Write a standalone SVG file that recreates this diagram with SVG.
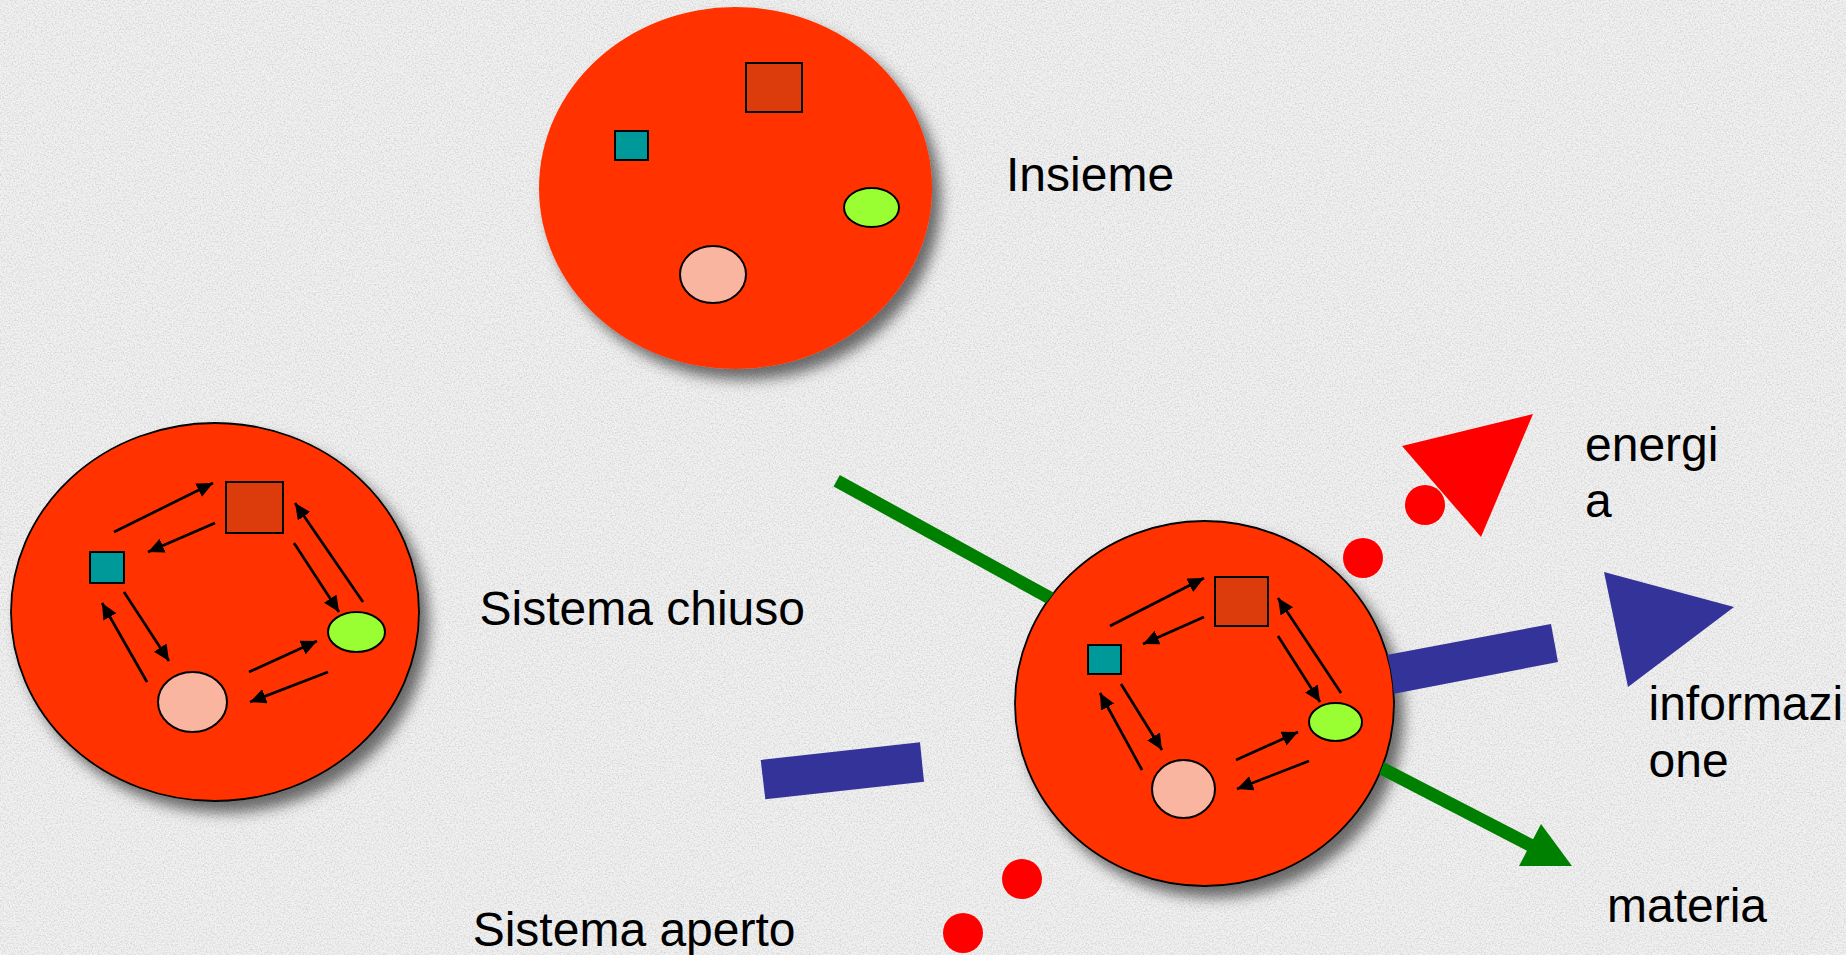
<svg xmlns="http://www.w3.org/2000/svg" width="1846" height="955" viewBox="0 0 1846 955">
  <style>
    .big{fill:#FF3300;}
    .outl{stroke:#000;stroke-width:1.8;}
    .sq{fill:#DC3B0B;stroke:#000;stroke-width:2;}
    .teal{fill:#009999;stroke:#000;stroke-width:2;}
    .lime{fill:#99FF33;stroke:#000;stroke-width:2;}
    .pink{fill:#F9B5A0;stroke:#000;stroke-width:2;}
    .arr{stroke:#000;stroke-width:2.7;fill:none;marker-end:url(#ah);}
    .red{fill:#FF0000;}
    .blue{fill:#333399;}
    .green{stroke:#008000;stroke-width:13;fill:none;}
    .lbl{font-family:"Liberation Sans",Arial,sans-serif;font-size:48px;fill:#000;}
  </style>
  <defs>
    <filter id="tex" x="0" y="0" width="100%" height="100%">
      <feTurbulence type="fractalNoise" baseFrequency="0.65" numOctaves="3" seed="7"/>
      <feColorMatrix type="matrix" values="0 0 0 0 0.68  0 0 0 0 0.68  0 0 0 0 0.68  2.6 0 0 0 -1.05"/>
    </filter>
    <filter id="sh" x="-20%" y="-20%" width="150%" height="150%">
      <feDropShadow dx="9" dy="11" stdDeviation="7" flood-color="#000" flood-opacity="0.55"/>
    </filter>
    <marker id="ah" markerUnits="userSpaceOnUse" markerWidth="17" markerHeight="16" refX="16" refY="7.5" orient="auto">
      <path d="M0,0 L16,7.5 L0,15 Z" fill="#000"/>
    </marker>
    <clipPath id="outR">
      <path clip-rule="evenodd" d="M0 0H1846V955H0Z M1015 703.5 A189.5 182.5 0 1 0 1394 703.5 A189.5 182.5 0 1 0 1015 703.5 Z"/>
    </clipPath>
  </defs>

  <!-- background -->
  <rect width="1846" height="955" fill="#f1f1f1"/>
  <rect width="1846" height="955" filter="url(#tex)"/>

  <!-- Insieme -->
  <g id="insieme">
    <ellipse class="big" cx="735.5" cy="188" rx="196.5" ry="181" filter="url(#sh)"/>
    <rect class="sq" x="746" y="63" width="56" height="49"/>
    <rect class="teal" x="615" y="131" width="33" height="29"/>
    <ellipse class="lime" cx="871.5" cy="207.5" rx="27.5" ry="19.5"/>
    <ellipse class="pink" cx="713" cy="274.5" rx="33" ry="28.5"/>
    <text class="lbl" x="1006" y="191">Insieme</text>
  </g>

  <!-- Sistema chiuso -->
  <g id="sistema-chiuso">
    <ellipse class="big outl" cx="215" cy="612" rx="204" ry="189" filter="url(#sh)"/>
    <rect class="sq" x="226" y="482" width="57" height="51"/>
    <rect class="teal" x="90" y="552" width="34" height="31"/>
    <ellipse class="lime" cx="356.5" cy="632" rx="28.5" ry="20"/>
    <ellipse class="pink" cx="192.5" cy="702" rx="34.5" ry="30"/>
    <g id="arrows-chiuso">
      <line class="arr" x1="114" y1="532" x2="213" y2="483"/>
      <line class="arr" x1="215" y1="523" x2="148" y2="552"/>
      <line class="arr" x1="294" y1="543" x2="339" y2="612"/>
      <line class="arr" x1="363" y1="602" x2="295" y2="503"/>
      <line class="arr" x1="124" y1="592" x2="169" y2="661"/>
      <line class="arr" x1="147" y1="682" x2="102" y2="603"/>
      <line class="arr" x1="249" y1="672" x2="317" y2="641"/>
      <line class="arr" x1="328" y1="672" x2="250" y2="702"/>
    </g>
    <text class="lbl" x="479.5" y="625">Sistema chiuso</text>
  </g>

  <!-- Sistema aperto -->
  <g id="sistema-aperto">
    <ellipse class="big outl" cx="1204.5" cy="703.5" rx="189.5" ry="182.5" filter="url(#sh)"/>
    <rect class="sq" x="1215" y="577" width="53" height="49"/>
    <rect class="teal" x="1088" y="645" width="33" height="29"/>
    <ellipse class="lime" cx="1335.5" cy="722" rx="26.5" ry="19"/>
    <ellipse class="pink" cx="1183.5" cy="789" rx="31.5" ry="29"/>
    <g id="arrows-aperto">
      <line class="arr" x1="1110" y1="626" x2="1204" y2="578"/>
      <line class="arr" x1="1204" y1="617" x2="1143" y2="644"/>
      <line class="arr" x1="1278" y1="636" x2="1320" y2="702"/>
      <line class="arr" x1="1341" y1="693" x2="1278" y2="598"/>
      <line class="arr" x1="1121" y1="684" x2="1162" y2="750"/>
      <line class="arr" x1="1142" y1="770" x2="1100" y2="693"/>
      <line class="arr" x1="1236" y1="760" x2="1298" y2="732"/>
      <line class="arr" x1="1309" y1="761" x2="1237" y2="789"/>
    </g>
    <text class="lbl" x="472.7" y="946">Sistema aperto</text>
  </g>

  <!-- flows -->
  <g id="connectors" clip-path="url(#outR)">
    <line class="green" x1="836.7" y1="480.7" x2="1070" y2="609"/>
    <polygon class="blue" points="760.7,760 920,742.3 924,781.7 765.3,799.3"/>
    <circle class="red" cx="1022" cy="879" r="20"/>
    <circle class="red" cx="963" cy="933" r="20"/>
    <polygon class="blue" points="1360,660 1551,624 1558,662 1367,699"/>
    <polygon class="blue" points="1604,572 1734,607 1628,687"/>
    <circle class="red" cx="1363" cy="558" r="20"/>
    <circle class="red" cx="1425" cy="505" r="20"/>
    <polygon class="red" points="1402,446 1533,414 1481,537"/>
    <line class="green" x1="1360" y1="757" x2="1532" y2="846"/>
    <polygon fill="#008000" points="1541,824 1519,866 1572,866"/>
  </g>

  <g id="labels">
    <text class="lbl" x="1585" y="461">energi</text>
    <text class="lbl" x="1585" y="517">a</text>
    <text class="lbl" x="1648.5" y="720">informazi</text>
    <text class="lbl" x="1648.5" y="777">one</text>
    <text class="lbl" x="1607" y="922">materia</text>
  </g>
</svg>
